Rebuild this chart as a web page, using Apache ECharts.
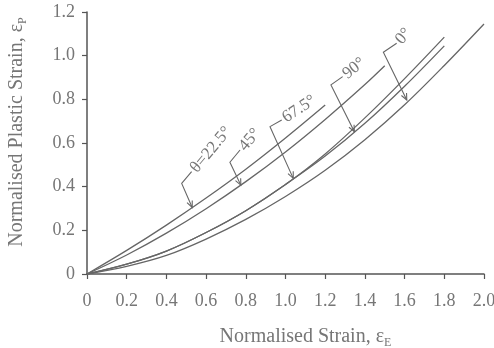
<!DOCTYPE html>
<html>
<head>
<meta charset="utf-8">
<script src="https://cdn.jsdelivr.net/npm/echarts@6/dist/echarts.min.js"></script>
<style>
  html, body { margin: 0; padding: 0; background: #ffffff; }
  #chart { width: 494px; height: 348px; }
</style>
</head>
<body>
<div id="chart"></div>
<script>
// Normalised strain (x) vs normalised plastic strain (y) for each fibre angle
const xTheta225 = [0, 0.2, 0.4, 0.6, 0.8, 1.0, 1.2];
const yTheta225 = [0, 0.108, 0.224, 0.348, 0.48, 0.623, 0.774];

const xTheta45 = [0, 0.2, 0.4, 0.6, 0.8, 1.0, 1.2, 1.4, 1.5];
const yTheta45 = [0, 0.087, 0.187, 0.299, 0.423, 0.559, 0.708, 0.868, 0.954];

const xTheta675 = [0, 0.2, 0.4, 0.6, 0.8, 1.0, 1.2, 1.4, 1.6, 1.8];
const yTheta675 = [0, 0.045, 0.105, 0.19, 0.29, 0.41, 0.55, 0.715, 0.895, 1.085];

const xTheta90 = [0, 0.2, 0.4, 0.6, 0.8, 1.0, 1.2, 1.4, 1.6, 1.8];
const yTheta90 = [0, 0.045, 0.105, 0.19, 0.29, 0.41, 0.54, 0.69, 0.86, 1.045];

const xTheta0 = [0, 0.2, 0.4, 0.6, 0.8, 1.0, 1.2, 1.4, 1.6, 1.8, 2.0];
const yTheta0 = [0, 0.035, 0.085, 0.16, 0.25, 0.355, 0.475, 0.615, 0.775, 0.955, 1.145];

// Curve labels: text, arrow tip on the curve, leader corner, leader end (data units), text angle (deg)
const labelText   = ['θ=22.5°', '45°', '67.5°', '90°', '0°'];
const labelTipX   = [0.53, 0.775, 1.039, 1.347, 1.611];
const labelTipY   = [0.305, 0.407, 0.438, 0.652, 0.797];
const labelCornX  = [0.477, 0.72, 0.922, 1.229, 1.493];
const labelCornY  = [0.415, 0.512, 0.675, 0.866, 1.016];
const labelEndX   = [0.527, 0.771, 0.981, 1.288, 1.56];
const labelEndY   = [0.469, 0.568, 0.705, 0.904, 1.057];
const labelAngle  = [50, 50, 33, 38, 50];

const xTicks = { min: 0, max: 2.0, step: 0.2 };
const yTicks = { min: 0, max: 1.2, step: 0.2 };

const LINE = '#666666';
const TEXT = '#767676';
const SERIF = '"Liberation Serif", "DejaVu Serif", serif';

function pairs(xs, ys) { return xs.map((x, i) => [x, ys[i]]); }
function tickFmt(v) { return v === 0 ? '0' : v.toFixed(1); }

const curves = [
  [xTheta225, yTheta225],
  [xTheta45, yTheta45],
  [xTheta675, yTheta675],
  [xTheta90, yTheta90],
  [xTheta0, yTheta0]
].map(([xs, ys]) => ({
  type: 'line',
  data: pairs(xs, ys),
  smooth: 0.35,
  showSymbol: false,
  silent: true,
  lineStyle: { color: LINE, width: 1.3 }
}));

const labelData = labelText.map((t, i) => [
  labelTipX[i], labelTipY[i], labelCornX[i], labelCornY[i],
  labelEndX[i], labelEndY[i], labelAngle[i]
]);

const labelSeries = {
  type: 'custom',
  silent: true,
  clip: false,
  data: labelData,
  renderItem: function (params, api) {
    const i = params.dataIndex;
    const tip = api.coord([api.value(0), api.value(1)]);
    const cor = api.coord([api.value(2), api.value(3)]);
    const end = api.coord([api.value(4), api.value(5)]);
    const ang = api.value(6) * Math.PI / 180;
    const dx = tip[0] - cor[0], dy = tip[1] - cor[1];
    const len = Math.hypot(dx, dy);
    const bx = -dx / len, by = -dy / len;
    const ah = 7, s = 0.42, cs = Math.cos(s), sn = Math.sin(s);
    const p1 = [tip[0] + ah * (bx * cs - by * sn), tip[1] + ah * (bx * sn + by * cs)];
    const p2 = [tip[0] + ah * (bx * cs + by * sn), tip[1] + ah * (-bx * sn + by * cs)];
    return {
      type: 'group',
      children: [
        { type: 'polyline', shape: { points: [end, cor, tip] },
          style: { stroke: LINE, lineWidth: 1.1, fill: null } },
        { type: 'polyline', shape: { points: [p1, tip, p2] },
          style: { stroke: LINE, lineWidth: 1.1, fill: null } },
        { type: 'text', x: end[0] + 2, y: end[1] - 1, rotation: ang,
          style: { text: labelText[i], fill: TEXT, font: '17px ' + SERIF,
                   align: 'left', verticalAlign: 'middle' } }
      ]
    };
  }
};

const chart = echarts.init(document.getElementById('chart'), null, { renderer: 'canvas' });
chart.setOption({
  animation: false,
  backgroundColor: '#ffffff',
  grid: { left: 87, right: 10, top: 12, bottom: 74, containLabel: false, outerBoundsMode: 'none' },
  xAxis: {
    type: 'value',
    min: xTicks.min, max: xTicks.max, interval: xTicks.step,
    name: '{a|Normalised Strain, ε}{s|E}',
    nameLocation: 'middle',
    nameGap: 51,
    nameTextStyle: {
      padding: [0, 0, 0, 40],
      rich: {
        a: { fontFamily: SERIF, fontSize: 20, color: TEXT, lineHeight: 24, verticalAlign: 'middle' },
        s: { fontFamily: SERIF, fontSize: 12, color: TEXT, lineHeight: 12, verticalAlign: 'bottom' }
      }
    },
    axisLine: { show: true, lineStyle: { color: '#555555', width: 1.5 } },
    axisTick: { show: true, length: 5, lineStyle: { color: '#555555', width: 1.2 } },
    splitLine: { show: false },
    axisLabel: { formatter: tickFmt, fontFamily: SERIF, fontSize: 18, color: TEXT, margin: 18 }
  },
  yAxis: {
    type: 'value',
    min: yTicks.min, max: yTicks.max, interval: yTicks.step,
    name: '{a|Normalised Plastic Strain, ε}{s|P}',
    nameLocation: 'middle',
    nameGap: 58,
    nameTextStyle: {
      padding: [0, 0, 0, 22],
      rich: {
        a: { fontFamily: SERIF, fontSize: 20, color: TEXT, lineHeight: 24, verticalAlign: 'middle' },
        s: { fontFamily: SERIF, fontSize: 12, color: TEXT, lineHeight: 12, verticalAlign: 'bottom' }
      }
    },
    axisLine: { show: true, lineStyle: { color: '#555555', width: 1.5 } },
    axisTick: { show: true, length: 5, lineStyle: { color: '#555555', width: 1.2 } },
    splitLine: { show: false },
    axisLabel: { formatter: tickFmt, fontFamily: SERIF, fontSize: 18, color: TEXT, margin: 12 }
  },
  series: curves.concat([labelSeries])
});
</script>
</body>
</html>
